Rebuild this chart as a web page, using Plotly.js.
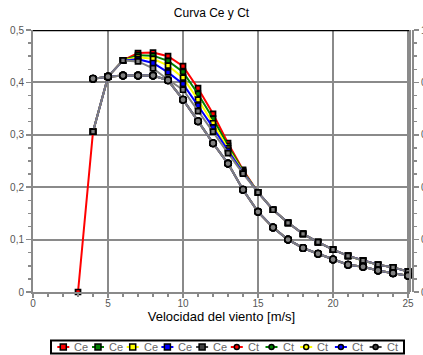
<!DOCTYPE html>
<html>
<head>
<meta charset="utf-8">
<script src="https://cdn.plot.ly/plotly-3.0.1.min.js"></script>
<style>html,body{margin:0;padding:0;background:#fff;}#chart{width:423px;height:355px;}</style>
</head>
<body>
<div id="chart"></div>
<script>
// ---- data ----
const windCe = [3,4,5,6,7,8,9,10,11,12,13,14,15,16,17,18,19,20,21,22,23,24,25];
const windCe2 = [4,5,6,7,8,9,10,11,12,13,14,15,16,17,18,19,20,21,22,23,24,25];
const ceRed    = [0, 0.306, 0.411, 0.442, 0.456, 0.457, 0.450, 0.431, 0.389, 0.340, 0.284, 0.233, 0.190, 0.157, 0.132, 0.111, 0.095, 0.081, 0.069, 0.060, 0.052, 0.047, 0.039];
const ceGreen  = [0.306, 0.411, 0.442, 0.452, 0.451, 0.441, 0.420, 0.378, 0.331, 0.279, 0.231, 0.190, 0.157, 0.132, 0.111, 0.095, 0.081, 0.069, 0.060, 0.052, 0.047, 0.039];
const ceYellow = [0.306, 0.411, 0.442, 0.448, 0.445, 0.432, 0.409, 0.367, 0.322, 0.274, 0.229, 0.190, 0.157, 0.132, 0.111, 0.095, 0.081, 0.069, 0.060, 0.052, 0.047, 0.039];
const ceBlue   = [0.306, 0.411, 0.442, 0.444, 0.437, 0.419, 0.397, 0.356, 0.314, 0.270, 0.228, 0.190, 0.157, 0.132, 0.111, 0.095, 0.081, 0.069, 0.060, 0.052, 0.047, 0.039];
const ceGray   = [0.306, 0.411, 0.442, 0.440, 0.427, 0.405, 0.386, 0.345, 0.306, 0.265, 0.226, 0.190, 0.157, 0.132, 0.111, 0.095, 0.081, 0.069, 0.060, 0.052, 0.047, 0.039];
const windCt = [4,5,6,7,8,9,10,11,12,13,14,15,16,17,18,19,20,21,22,23,24,25];
const ctValues = [0.814, 0.822, 0.826, 0.826, 0.826, 0.808, 0.734, 0.652, 0.568, 0.490, 0.390, 0.306, 0.246, 0.200, 0.168, 0.146, 0.124, 0.104, 0.096, 0.082, 0.072, 0.062];
const ceSeries = [ceRed, ceGreen, ceYellow, ceBlue, ceGray];
const ceX = [windCe, windCe2, windCe2, windCe2, windCe2];
const seriesColors = ['#ff0000', '#008000', '#ffff00', '#0000ff', '#808080'];
const ctColors = ['#ff0000', '#008000', '#ffff00', '#0000ff', '#808080'];
const legendColors = ['#ff0000', '#008000', '#ffff00', '#0000ff', '#404040'];
const leftTickVals = [0, 0.1, 0.2, 0.3, 0.4, 0.5];
const leftTickText = ['0', '0,1', '0,2', '0,3', '0,4', '0,5'];
const rightTickVals = [0, 0.2, 0.4, 0.6, 0.8, 1];
const rightTickText = ['0', '0,2', '0,4', '0,6', '0,8', '1'];
const xTickVals = [0, 5, 10, 15, 20, 25];
const xTickText = ['0', '5', '10', '15', '20', '25'];

// ---- geometry ----
const W = 423, H = 355, ML = 33, MR = 10, MT = 30, MB = 63;
const PW = W - ML - MR, PH = H - MT - MB;
const px2x = p => (p - ML) / PW;
const py2y = p => (H - MB - p) / PH;
const xDomEnd = 377 / PW;
const grid = '#8a8a8a';
const fontFam = '"Liberation Sans", Arial, sans-serif';

const traces = [];
ceSeries.forEach((vals, i) => {
  traces.push({
    x: ceX[i], y: vals, type: 'scatter', mode: 'lines+markers', name: 'Ce',
    line: {color: seriesColors[i], width: 2},
    marker: {symbol: 'square', size: 5, color: seriesColors[i], line: {color: '#000', width: 1.7}},
    showlegend: false, cliponaxis: false
  });
});
ctColors.forEach((c, i) => {
  traces.push({
    x: windCt, y: ctValues, type: 'scatter', mode: 'lines+markers', name: 'Ct', yaxis: 'y2',
    line: {color: c, width: 2},
    marker: {symbol: 'circle', size: 6.5, color: '#808080', line: {color: '#000', width: 1.6}},
    showlegend: false, cliponaxis: false
  });
});

// legend built from the series names/colours
const shapes = [
  {type: 'line', xref: 'paper', yref: 'y', x0: 0, x1: xDomEnd, y0: 0.5, y1: 0.5, line: {color: '#000', width: 2.5}},
  {type: 'line', xref: 'paper', yref: 'paper', x0: xDomEnd, x1: xDomEnd, y0: 0, y1: 1, line: {color: grid, width: 2}},
  {type: 'rect', xref: 'paper', yref: 'paper', x0: px2x(51), x1: px2x(404), y0: py2y(340.5), y1: py2y(353.5), line: {color: '#000', width: 2}, fillcolor: '#fff'}
];
const annotations = [];
const legendNames = ['Ce','Ce','Ce','Ce','Ce','Ct','Ct','Ct','Ct','Ct'];
legendNames.forEach((nm, i) => {
  const cx = 63.3 + i * 34.7, cy = 347;
  const col = legendColors[i % 5];
  shapes.push({type: 'line', xref: 'paper', yref: 'paper', x0: px2x(cx - 6), x1: px2x(cx + 6), y0: py2y(cy), y1: py2y(cy), line: {color: col, width: 2}});
  if (nm === 'Ce') {
    shapes.push({type: 'rect', xref: 'paper', yref: 'paper', x0: px2x(cx - 3), x1: px2x(cx + 3), y0: py2y(cy + 3), y1: py2y(cy - 3), line: {color: '#000', width: 1.5}, fillcolor: col});
  } else {
    shapes.push({type: 'circle', xref: 'paper', yref: 'paper', x0: px2x(cx - 2.5), x1: px2x(cx + 2.5), y0: py2y(cy + 2.5), y1: py2y(cy - 2.5), line: {color: '#000', width: 1.5}, fillcolor: col});
  }
  annotations.push({xref: 'paper', yref: 'paper', x: px2x(cx + 9), y: py2y(cy), xanchor: 'left', yanchor: 'middle', showarrow: false, text: nm, font: {family: fontFam, size: 11, color: '#666'}});
});

const layout = {
  width: W, height: H,
  margin: {l: ML, r: MR, t: MT, b: MB, pad: 0},
  paper_bgcolor: '#fff', plot_bgcolor: '#fff',
  showlegend: false,
  font: {family: fontFam, color: '#555', size: 10},
  title: {text: 'Curva Ce y Ct', font: {family: fontFam, size: 12, color: '#000'}, x: 0.5, xanchor: 'center', y: 1 - 13 / H, yanchor: 'middle'},
  xaxis: {
    domain: [0, xDomEnd], range: [0, 25.13], tickmode: 'array', tickvals: xTickVals, ticktext: xTickText,
    showgrid: true, gridcolor: grid, gridwidth: 2, zeroline: false,
    showline: true, linecolor: grid, linewidth: 2,
    ticks: 'outside', ticklen: 4, tickcolor: grid, tickwidth: 1.5,
    minor: {dtick: 1, ticks: 'outside', ticklen: 3, tickcolor: grid, tickwidth: 1.5, showgrid: false},
    tickfont: {family: fontFam, size: 10, color: '#555'},
    ticklabelstandoff: -3,
    title: {text: 'Velocidad del viento [m/s]', font: {family: fontFam, size: 13, color: '#000'}, standoff: 4},
    fixedrange: true
  },
  yaxis: {
    range: [0, 0.5], tickmode: 'array', tickvals: leftTickVals, ticktext: leftTickText,
    showgrid: true, gridcolor: grid, gridwidth: 2, zeroline: false,
    showline: true, linecolor: grid, linewidth: 2,
    ticks: 'outside', ticklen: 5, tickcolor: grid, tickwidth: 1.5,
    minor: {dtick: 0.025, ticks: 'outside', ticklen: 3, tickcolor: grid, tickwidth: 1.5, showgrid: false},
    tickfont: {family: fontFam, size: 10, color: '#555'},
    automargin: false, fixedrange: true
  },
  yaxis2: {
    overlaying: 'y', side: 'right', anchor: 'free', position: 1,
    range: [0, 1], tickmode: 'array', tickvals: rightTickVals, ticktext: rightTickText,
    showgrid: false, zeroline: false, showline: true, linecolor: grid, linewidth: 2,
    ticks: 'outside', ticklen: 5, tickcolor: grid, tickwidth: 1.5,
    minor: {dtick: 0.05, ticks: 'outside', ticklen: 3, tickcolor: grid, tickwidth: 1.5, showgrid: false},
    tickfont: {family: fontFam, size: 10, color: '#555'},
    automargin: false, fixedrange: true
  },
  shapes: shapes,
  annotations: annotations
};

Plotly.newPlot('chart', traces, layout, {staticPlot: true, displayModeBar: false});
</script>
</body>
</html>
